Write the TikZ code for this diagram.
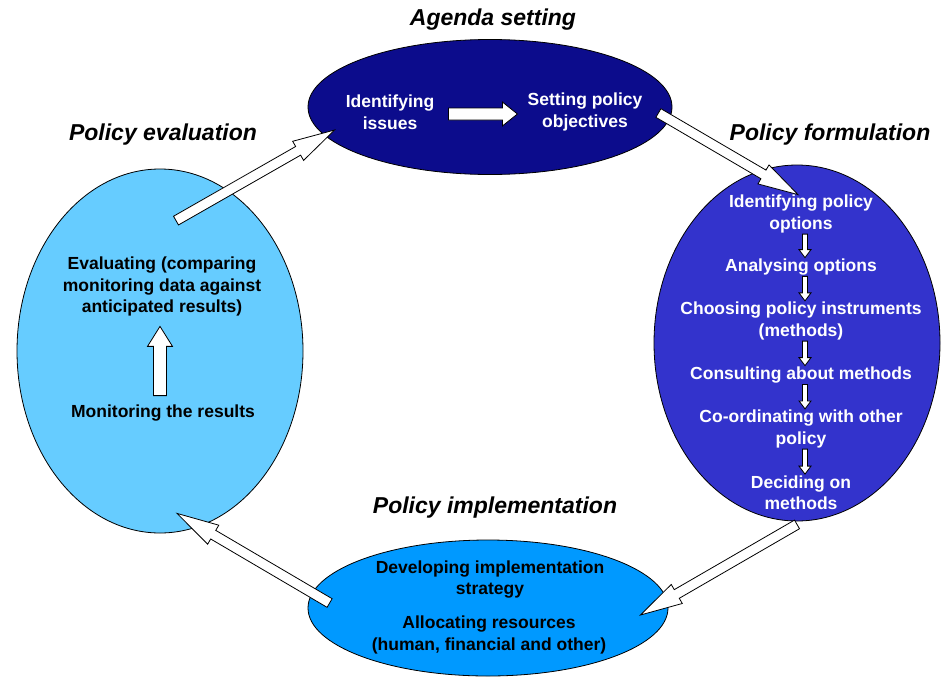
\documentclass[tikz,border=0pt]{standalone}
\usepackage{fontspec}
\setmainfont{Liberation Sans}
\usetikzlibrary{shapes.geometric,calc}
\definecolor{agendacol}{RGB}{12,12,140}
\definecolor{formcol}{RGB}{51,51,204}
\definecolor{evalcol}{RGB}{102,204,255}
\definecolor{implcol}{RGB}{0,153,255}
% block arrow: #1 from, #2 to, #3 shaft half width, #4 head half width, #5 head length
\newcommand\blockarrow[5]{%
  \draw[barrow] let \p1=(#1), \p2=(#2),
    \n1={atan2(\y2-\y1,\x2-\x1)}, \n2={veclen(\x2-\x1,\y2-\y1)} in
    [shift={(\x1,\y1)}, rotate=\n1]
    (0,-#3) -- ({\n2-#5},-#3) -- ({\n2-#5},-#4) -- (\n2,0) --
    ({\n2-#5},#4) -- ({\n2-#5},#3) -- (0,#3) -- cycle;}
\begin{document}
\begin{tikzpicture}[x=1pt,y=1pt,
  stage/.style={ellipse, draw=black, line width=0.8pt, inner sep=0pt},
  title/.style={font=\fontsize{23}{27}\selectfont\bfseries\itshape, inner sep=0pt},
  body/.style={font=\fontsize{17.5}{21.5}\selectfont\bfseries, align=center, inner sep=0pt},
  wtext/.style={body, text=white},
  barrow/.style={draw=black, fill=white, line width=0.8pt, line join=miter}]
\useasboundingbox (0,0) rectangle (944,-680);

% ellipses
\node[stage, fill=agendacol, minimum width=364, minimum height=135] (agenda) at (490,-107) {};
\node[stage, fill=formcol, minimum width=286, minimum height=356] (form) at (797,-343) {};
\node[stage, fill=evalcol, minimum width=286, minimum height=364] (evalu) at (160,-351) {};
\node[stage, fill=implcol, minimum width=360, minimum height=136] (impl) at (488,-608) {};

% titles
\node[title] (tagenda) at (493,-20) {Agenda setting};
\node[title] (tform) at (830,-135) {Policy formulation};
\node[title] (teval) at (163,-135) {Policy evaluation};
\node[title] (timpl) at (495,-508) {Policy implementation};

% agenda setting
\node[wtext] (iss) at (390,-112) {Identifying\\issues};
\node[wtext] (obj) at (585,-112) {Setting policy\\objectives};
\blockarrow{$(iss.east)+(14,-2)$}{$(obj.west)+(-10,-2)$}{6}{12}{15}

% policy formulation
\node[wtext] (f1) at (801,-214) {Identifying policy\\options};
\node[wtext] (f2) at (801,-267) {Analysing options};
\node[wtext] (f3) at (801,-321) {Choosing policy instruments\\(methods)};
\node[wtext] (f4) at (801,-375) {Consulting about methods};
\node[wtext] (f5) at (801,-429) {Co-ordinating with other\\policy};
\node[wtext] (f6) at (801,-492.5) {Deciding on\\methods};
\blockarrow{$(f1.south)+(4,-1)$}{$(f2.north)+(4,1)$}{2.5}{6}{8}
\blockarrow{$(f2.south)+(4,-1)$}{$(f3.north)+(4,1)$}{2.5}{6}{8}
\blockarrow{$(f3.south)+(4,-1)$}{$(f4.north)+(4,1)$}{2.5}{6}{8}
\blockarrow{$(f4.south)+(4,-1)$}{$(f5.north)+(4,1)$}{2.5}{6}{8}
\blockarrow{$(f5.south)+(4,-1)$}{$(f6.north)+(4,1)$}{2.5}{6}{8}

% policy evaluation
\node[body] (ev) at (162,-286.5) {Evaluating (comparing\\monitoring data against\\anticipated results)};
\node[body] (mon) at (163,-413) {Monitoring the results};
\blockarrow{$(mon.north)+(-3,9)$}{$(ev.south)+(-2,-10)$}{6.5}{12.5}{20}

% policy implementation
\node[body] (dev) at (490,-579.5) {Developing implementation\\strategy};
\node[body] (alloc) at (489,-635) {Allocating resources\\(human, financial and other)};

% cycle arrows
\blockarrow{$(agenda.east)+(-14,-6)$}{$(form.north)+(1,-30)$}{5}{11}{40}
\blockarrow{$(form.south)+(0,-3)$}{$(impl.east)+(-28,-7)$}{5}{11}{42}
\blockarrow{$(impl.west)+(22,5)$}{$(evalu.south)+(17,20)$}{5}{11}{42}
\blockarrow{$(evalu.north)+(16,-52)$}{$(agenda.west)+(27,-23)$}{5}{11}{42}
\end{tikzpicture}
\end{document}
